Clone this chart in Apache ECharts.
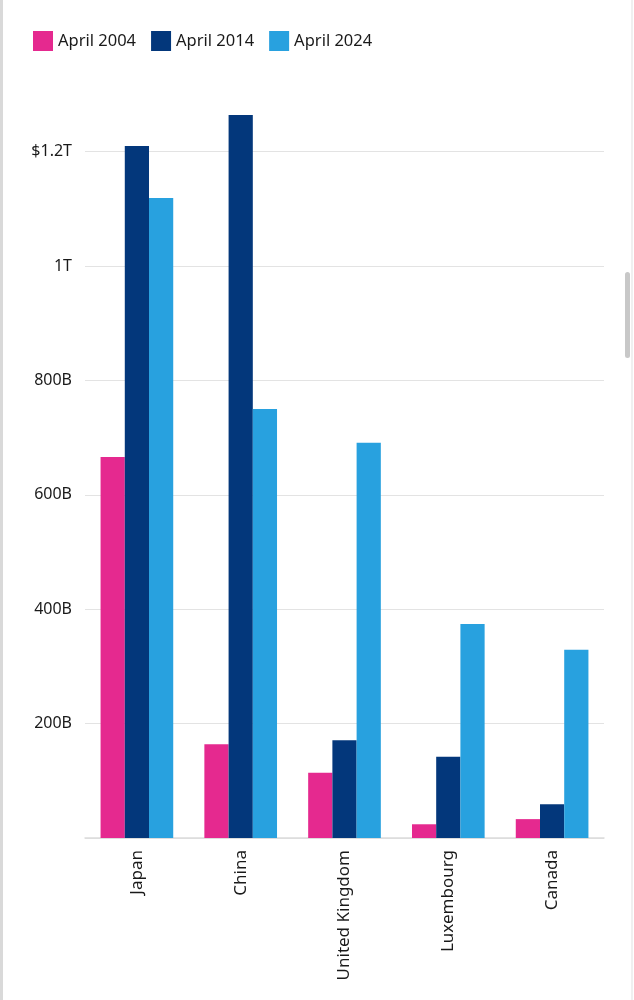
<!DOCTYPE html>
<html>
<head>
<meta charset="utf-8">
<script src="https://cdn.jsdelivr.net/npm/echarts@6/dist/echarts.min.js"></script>
<style>
html,body{margin:0;padding:0;background:#fff;}
#c{width:634px;height:1000px;}
</style>
</head>
<body>
<div id="c"></div>
<script>
// values in billions of USD
const categories = ['Japan', 'China', 'United Kingdom', 'Luxembourg', 'Canada'];
const seriesNames = ['April 2004', 'April 2014', 'April 2024'];
const apr2004 = [666, 164, 114, 24, 33];
const apr2014 = [1210, 1264, 171, 142, 59];
const apr2024 = [1119, 750, 691, 374, 329];
const tickLabels = {0: '', 200: '200B', 400: '400B', 600: '600B', 800: '800B', 1000: '1T', 1200: '$1.2T'};

const colors = ['#e5298f', '#03377b', '#28a1df'];
const font = 'Noto Sans';
const chart = echarts.init(document.getElementById('c'));
chart.setOption({
  animation: false,
  textStyle: {fontFamily: font},
  color: colors,
  legend: {
    left: 28, top: 26, icon: 'rect', itemWidth: 20, itemHeight: 20, itemGap: 15,
    textStyle: {fontSize: 16.5, color: '#1a1a1a', fontFamily: font},
    data: seriesNames
  },
  grid: {left: 85, right: 30, top: 94.4, bottom: 162},
  xAxis: {
    type: 'category', data: categories,
    axisLine: {lineStyle: {color: '#dcdcdc', width: 1.5}},
    axisTick: {show: false},
    axisLabel: {rotate: 90, fontSize: 17, color: '#1a1a1a', margin: 12, fontFamily: font}
  },
  yAxis: {
    type: 'value', min: 0, max: 1300, interval: 200,
    axisLine: {show: false}, axisTick: {show: false},
    axisLabel: {
      showMaxLabel: false, fontSize: 16, color: '#1a1a1a', margin: 13, fontFamily: font,
      formatter: v => (tickLabels[v] !== undefined ? tickLabels[v] : '')
    },
    splitLine: {showMaxLine: false, lineStyle: {color: '#e3e3e3', width: 1.2}}
  },
  series: [
    {name: seriesNames[0], type: 'bar', data: apr2004, barGap: '0%', barCategoryGap: '30%'},
    {name: seriesNames[1], type: 'bar', data: apr2014, barGap: '0%', barCategoryGap: '30%'},
    {name: seriesNames[2], type: 'bar', data: apr2024, barGap: '0%', barCategoryGap: '30%'}
  ],
  graphic: [
    {type: 'rect', left: 0, top: 0, shape: {width: 3, height: 1000}, style: {fill: '#d9d9d9'}, silent: true},
    {type: 'rect', left: 631, top: 0, shape: {width: 2, height: 1000}, style: {fill: '#f0f0f0'}, silent: true},
    {type: 'rect', left: 625, top: 272, shape: {width: 5, height: 86, r: 2.5}, style: {fill: '#c8c8c8'}, silent: true}
  ]
});
</script>
</body>
</html>
